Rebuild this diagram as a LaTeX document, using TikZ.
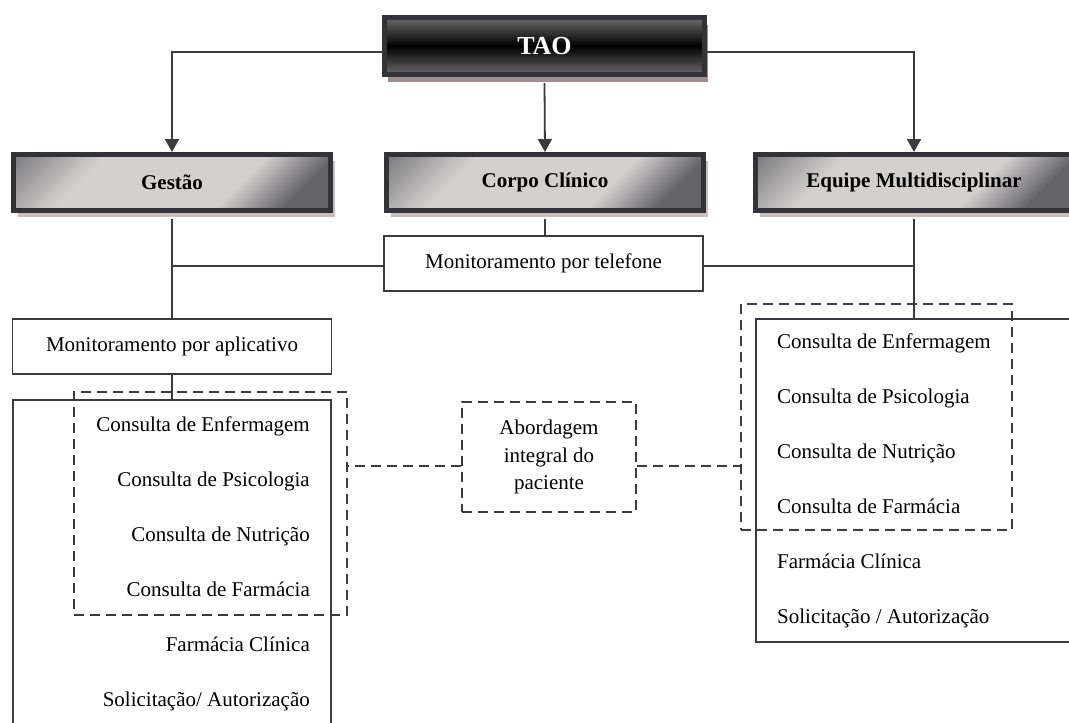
\documentclass[tikz,border=0pt]{standalone}
\usepackage{fontspec}
\setmainfont{Liberation Serif}
\usetikzlibrary{arrows.meta,shadows}

\definecolor{linecol}{RGB}{58,58,64}
\definecolor{framecol}{RGB}{50,50,56}
\definecolor{taoshadow}{RGB}{160,140,140}
\definecolor{headshadow}{RGB}{205,190,190}
\definecolor{headdark}{RGB}{100,100,104}
\definecolor{headmid}{RGB}{128,128,130}
\definecolor{headlight}{RGB}{212,208,208}
\pgfdeclareverticalshading{headshade}{100bp}{color(0bp)=(headdark); color(24bp)=(headdark);
  color(37bp)=(headlight); color(68bp)=(headlight); color(84bp)=(headmid); color(100bp)=(headmid)}

\tikzset{
  topbox/.style={draw=framecol, line width=5pt, minimum width=320pt, minimum height=57pt,
    top color=black!58, bottom color=black!58, middle color=black,
    text=white, font=\fontsize{26}{30}\selectfont\bfseries,
    drop shadow={shadow xshift=3pt, shadow yshift=-7pt, fill=taoshadow, opacity=1}},
  headbox/.style={draw=framecol, line width=5pt, minimum width=317pt, minimum height=56pt,
    shading=headshade, shading angle=45,
    font=\fontsize{21}{25}\selectfont\bfseries,
    drop shadow={shadow xshift=4pt, shadow yshift=-6pt, fill=headshadow, opacity=1}},
  plainbox/.style={draw=linecol, line width=1.8pt, minimum width=319pt, minimum height=55pt},
  dashbox/.style={draw=linecol, line width=1.8pt, dash pattern=on 10pt off 6pt},
  link/.style={draw=linecol, line width=1.8pt},
  dashlink/.style={link, dash pattern=on 10pt off 6pt},
  arr/.style={link, -{Triangle[width=14pt,length=13pt]}},
}

\begin{document}
\begin{tikzpicture}[x=1pt, y=-1pt, font=\fontsize{21}{27.5}\selectfont]
	\useasboundingbox (0,0) rectangle (1069,723);
	% heads
	\node[topbox] (tao) at (544.5,46) {TAO};
	\node[headbox] (gestao) at (172,182.5) {Gestão};
	\node[headbox] (corpo) at (545,182.5) {Corpo Clínico};
	\node[headbox] (equipe) at (914,182.5) {Equipe Multidisciplinar};
	\draw[arr] ([yshift=-6pt]tao.west) -| (gestao.north);
	\draw[arr] ([yshift=-6pt]tao.south) -- (corpo.north);
	\draw[arr] ([yshift=-6pt]tao.east) -| (equipe.north);
	% monitoring
	\node[plainbox] (tel) at (543.5,263.5) {Monitoramento por telefone};
	\node[plainbox] (aplic) at (172,346.5) {Monitoramento por aplicativo};
	\node[plainbox, minimum width=318pt, minimum height=360pt] (lbox) at (172,580) {};
	\node[plainbox, minimum width=326pt, minimum height=323pt] (rbox) at (919,480.5) {};
	\draw[link] ([yshift=-6pt]gestao.south) -- (aplic.north);
	\draw[link] ([yshift=-6pt]corpo.south) -- (corpo.south |- tel.north);
	\draw[link] ([yshift=-2.5pt]tel.west) -- ([yshift=-2.5pt]tel.west -| gestao.south);
	\draw[link] ([yshift=-2.5pt]tel.east) -- ([yshift=-2.5pt]tel.east -| equipe.south);
	\draw[link] ([yshift=-6pt]equipe.south) -- (equipe.south |- rbox.north);
	\draw[link] (aplic.south) -- (aplic.south |- lbox.north);
	% lists
	\foreach \t [count=\i from 0] in {Consulta de Enfermagem, Consulta de Psicologia,
		Consulta de Nutrição, Consulta de Farmácia, Farmácia Clínica, Solicitação/ Autorização}
		\node[anchor=base east, inner sep=0pt] (lt\i) at (310,{431+55*\i}) {\t};
	\foreach \t [count=\i from 0] in {Consulta de Enfermagem, Consulta de Psicologia,
		Consulta de Nutrição, Consulta de Farmácia, Farmácia Clínica, Solicitação / Autorização}
		\node[anchor=base west, inner sep=0pt] (rt\i) at (777,{348+55*\i}) {\t};
	% dashed groups
	\node[dashbox, minimum width=273pt, minimum height=223pt] (ldash) at (210.5,503.5) {};
	\node[dashbox, minimum width=271pt, minimum height=226pt] (rdash) at (876.5,417) {};
	\node[dashbox, minimum width=174pt, minimum height=110pt, align=center] (abord) at (549,457)
		{Abordagem\\integral do\\paciente};
	\draw[dashlink] ([yshift=-9pt]abord.west) -- ([yshift=-9pt]abord.west -| ldash.east);
	\draw[dashlink] ([yshift=-9pt]abord.east) -- ([yshift=-9pt]abord.east -| rdash.west);
\end{tikzpicture}
\end{document}
